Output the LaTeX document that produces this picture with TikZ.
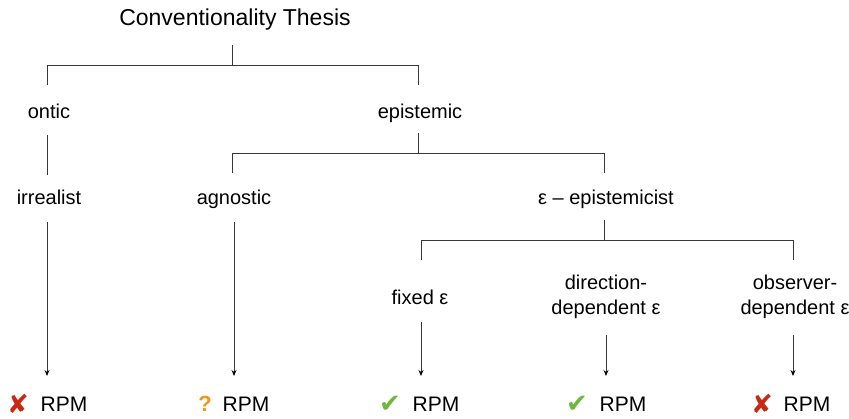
\documentclass[tikz,border=0pt]{standalone}
\usepackage{fontspec}
\setmainfont{Liberation Sans}
\newfontfamily\symfont{DejaVu Sans}
\usetikzlibrary{arrows.meta}
\definecolor{lncol}{RGB}{55,55,55}
\definecolor{xred}{RGB}{200,40,20}
\definecolor{qor}{RGB}{240,150,30}
\definecolor{ckgr}{RGB}{110,185,60}
\begin{document}
\begin{tikzpicture}[x=1pt,y=-1pt,
 lbl/.style={inner sep=0pt, font=\fontsize{20}{24}\selectfont, text height=14.5pt, text depth=4pt},
 lbltwo/.style={inner sep=0pt, font=\fontsize{20}{25}\selectfont, align=center},
 ttl/.style={inner sep=0pt, font=\fontsize{23}{27}\selectfont},
 res/.style={inner sep=0pt, font=\fontsize{21}{25}\selectfont, text height=15pt, text depth=0pt},
 sym/.style={inner sep=0pt, font=\symfont\fontsize{26}{30}\selectfont},
 tree/.style={draw=lncol, line width=0.9pt},
 arr/.style={tree, -{Stealth[length=6pt,width=5pt,color=black]}}
]
\useasboundingbox (0,0) rectangle (849,419);
% labels
\node[ttl] (ct) at (235,20) {Conventionality Thesis};
\node[lbl] (ontic) at (49,113) {ontic};
\node[lbl] (epi) at (420,113) {epistemic};
\node[lbl] (irr) at (49,199) {irrealist};
\node[lbl] (agn) at (234,199) {agnostic};
\node[lbl] (eeps) at (606,199) {ε – epistemicist};
\node[lbl] (fix) at (420,299) {fixed ε};
\node[lbltwo] (dir) at (606,297) {direction-\\dependent ε};
\node[lbltwo] (obs) at (795,297) {observer-\\dependent ε};
% results
\node[res] (r1) at (64,404) {RPM};
\node[res] (r2) at (246,404) {RPM};
\node[res] (r3) at (436,404) {RPM};
\node[res] (r4) at (623,404) {RPM};
\node[res] (r5) at (807,404) {RPM};
\node[sym, text=xred] (s1) at (18,404) {✘};
\node[inner sep=0pt, font=\bfseries\fontsize{22}{24}\selectfont, text=qor] (s2) at (205,404) {?};
\node[sym, text=ckgr] (s3) at (390,404) {✔};
\node[sym, text=ckgr] (s4) at (577,404) {✔};
\node[sym, text=xred] (s5) at (762,404) {✘};
% tree coordinates
\coordinate (t0) at (232,45);
\coordinate (t1) at (232,65);
\coordinate (tl) at (47,65);
\coordinate (tr) at (418,65);
\coordinate (tld) at (47,85);
\coordinate (trd) at (418,85);
\coordinate (o1) at (47,135);
\coordinate (o2) at (47,175);
\coordinate (e0) at (418,133);
\coordinate (e1) at (418,153);
\coordinate (el) at (232,153);
\coordinate (er) at (604,153);
\coordinate (eld) at (232,173);
\coordinate (erd) at (604,173);
\coordinate (p0) at (604,220);
\coordinate (p1) at (604,240);
\coordinate (pl) at (421,240);
\coordinate (pr) at (793,240);
\coordinate (pld) at (421,260);
\coordinate (prd) at (793,260);
\draw[tree] (t0) -- (t1);
\draw[tree] (tld) -- (tl) -- (tr) -- (trd);
\draw[tree] (o1) -- (o2);
\draw[tree] (e0) -- (e1);
\draw[tree] (eld) -- (el) -- (er) -- (erd);
\draw[tree] (p0) -- (p1);
\draw[tree] (pld) -- (pl) -- (pr) -- (prd);
% arrows
\coordinate (a1) at (47,222);
\coordinate (a2) at (234,222);
\coordinate (a3) at (421,322);
\coordinate (a4) at (606,335);
\coordinate (a5) at (793,335);
\draw[arr] (a1) -- (a1 |- 0,376);
\draw[arr] (a2) -- (a2 |- 0,376);
\draw[arr] (a3) -- (a3 |- 0,376);
\draw[arr] (a4) -- (a4 |- 0,376);
\draw[arr] (a5) -- (a5 |- 0,376);
\end{tikzpicture}
\end{document}
